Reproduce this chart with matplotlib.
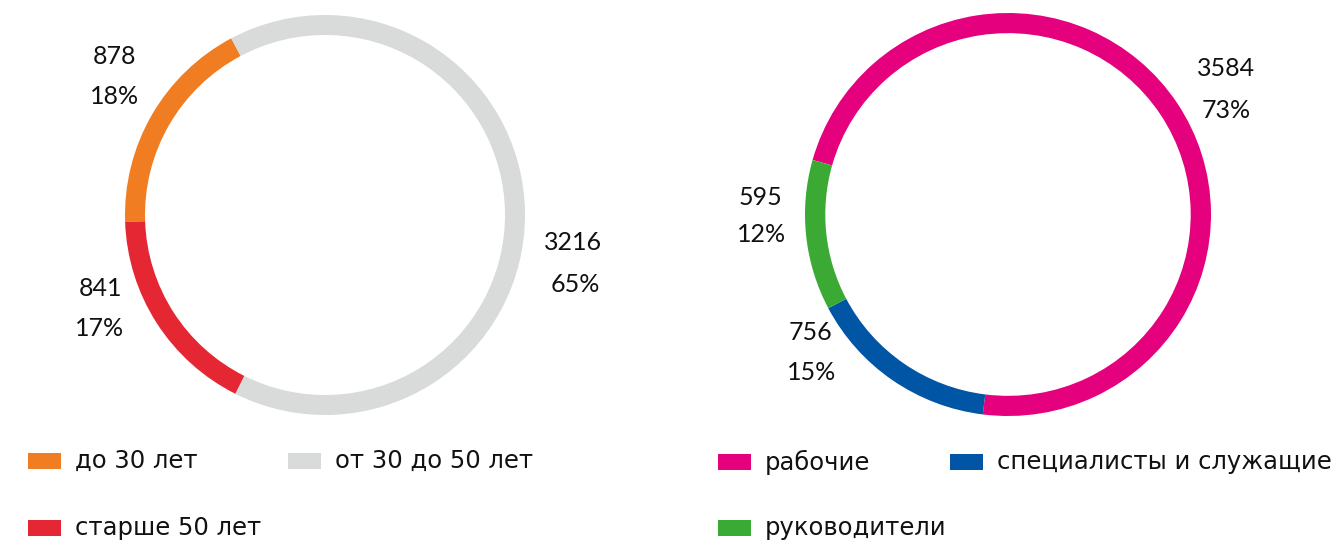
import matplotlib.pyplot as plt
from matplotlib.patches import Rectangle

W, H = 1341, 542

# data
age_labels = ['до 30 лет', 'от 30 до 50 лет', 'старше 50 лет']
age_values = [878, 3216, 841]
age_colors = ['#F07D22', '#D9DADA', '#E52633']

cat_labels = ['рабочие', 'специалисты и служащие', 'руководители']
cat_values = [3584, 756, 595]
cat_colors = ['#E5007D', '#0055A4', '#3AAA35']

# label positions in pixels (value, percent)
age_label_pos = [((114, 56), (115, 96)), ((573, 242), (575, 285)), ((100, 288), (100, 329))]
cat_label_pos = [((1226, 69), (1226, 111)), ((810, 332), (812, 373)), ((760, 198), (762, 235))]

# legend positions in pixels (square left, row centre y)
age_leg_pos = [(28, 461), (288, 461), (28, 528)]
cat_leg_pos = [(718, 462), (950, 462), (718, 528)]

fig = plt.figure(figsize=(W / 100, H / 100), dpi=100)


def px_axes(x0, y0, x1, y1):
    return fig.add_axes([x0 / W, 1 - y1 / H, (x1 - x0) / W, (y1 - y0) / H])


def donut(ax, values, colors, start, label_pos):
    ax.pie(values, colors=colors, startangle=start, counterclock=False,
           radius=1, wedgeprops=dict(width=0.1, linewidth=0))
    ax.set_xlim(-1, 1)
    ax.set_ylim(-1, 1)
    ax.set_aspect('auto')
    ax.axis('off')
    total = sum(values)
    for v, (pv, pp) in zip(values, label_pos):
        pct = round(v / total * 100)
        fig.text(pv[0] / W, 1 - pv[1] / H, f'{v}', ha='center', va='center',
                 fontsize=18, family='Lato', color='#111111')
        fig.text(pp[0] / W, 1 - pp[1] / H, f'{pct}%', ha='center', va='center',
                 fontsize=18, family='Lato', color='#111111')


def legend(labels, colors, pos):
    for lab, c, (x, y) in zip(labels, colors, pos):
        fig.add_artist(Rectangle((x / W, 1 - (y + 8) / H), 33 / W, 16 / H,
                                 transform=fig.transFigure, color=c, lw=0))
        fig.text((x + 47) / W, 1 - y / H, lab, ha='left', va='center',
                 fontsize=17.5, family='DejaVu Sans', color='#111111')


ax1 = px_axes(125, 15, 525, 415)
donut(ax1, age_values, age_colors, 182, age_label_pos)

ax2 = px_axes(805, 13, 1211, 416)
donut(ax2, cat_values, cat_colors, 164.3, cat_label_pos)

legend(age_labels, age_colors, age_leg_pos)
legend(cat_labels, cat_colors, cat_leg_pos)

fig.savefig('out.png', dpi=100)
